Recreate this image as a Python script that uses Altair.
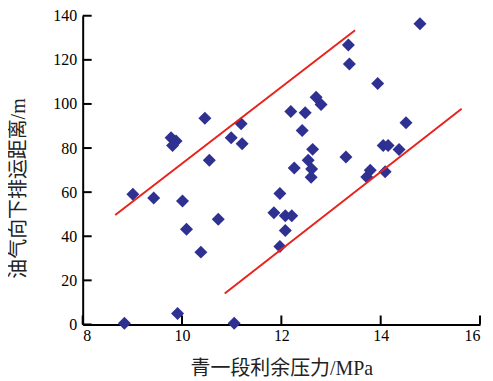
import altair as alt
import pandas as pd

# scatter points: residual pressure (MPa) vs downward migration distance (m)
px = [8.84, 9.01, 9.43, 9.78, 9.88, 9.81, 9.91, 10.01, 10.09, 10.38, 10.46, 10.55,
      10.73, 10.99, 11.05, 11.19, 11.21, 11.85, 11.97, 11.97, 12.08, 12.08, 12.21,
      12.19, 12.26, 12.42, 12.48, 12.54, 12.61, 12.60, 12.63, 12.70, 12.80, 13.30,
      13.35, 13.37, 13.72, 13.79, 13.94, 14.05, 14.15, 14.09, 14.37, 14.51, 14.79]
py = [0.5, 59.0, 57.4, 84.7, 83.2, 81.2, 5.0, 56.0, 43.2, 32.8, 93.5, 74.5,
      47.7, 84.7, 0.5, 91.0, 82.0, 50.7, 59.4, 35.3, 49.3, 42.6, 49.3,
      96.6, 71.0, 88.0, 96.0, 74.5, 70.5, 66.8, 79.4, 103.0, 99.7, 75.9,
      126.7, 118.1, 66.9, 69.9, 109.3, 81.2, 81.2, 69.2, 79.3, 91.5, 136.4]

# boundary lines
upper_x = [8.655, 13.485]
upper_y = [49.6, 133.4]
lower_x = [10.86, 15.63]
lower_y = [14.0, 97.8]

x_ticks = [8, 10, 12, 14, 16]
y_ticks = [0, 20, 40, 60, 80, 100, 120, 140]

x_title = "青一段利余压力/MPa"
y_title = "油气向下排运距离/m"

W, H = 399, 310
FONT = "'Liberation Serif', 'Noto Sans CJK SC'"

pts = pd.DataFrame({"x": px, "y": py})
lines = pd.DataFrame({
    "x": upper_x + lower_x,
    "y": upper_y + lower_y,
    "g": ["upper"] * len(upper_x) + ["lower"] * len(lower_x),
})
xt = pd.DataFrame({"x": x_ticks})
yt = pd.DataFrame({"y": y_ticks})

xscale = alt.Scale(domain=[8, 16], nice=False, zero=False)
yscale = alt.Scale(domain=[0, 140], nice=False)

xaxis = alt.Axis(values=x_ticks, title=x_title, labelPadding=3, ticks=False,
                 titleY=44, titleBaseline="middle")
yaxis = alt.Axis(values=y_ticks, title=y_title, labelPadding=6, ticks=False,
                 titleX=-64, titleY=173, titleAngle=270, titleAlign="center",
                 titleBaseline="middle")

points = alt.Chart(pts).mark_point(
    shape="diamond", filled=True, size=170, color="#2E3192", opacity=1
).encode(
    x=alt.X("x:Q", scale=xscale, axis=xaxis),
    y=alt.Y("y:Q", scale=yscale, axis=yaxis),
)

# inward-pointing tick marks
xtick_marks = alt.Chart(xt).mark_tick(
    color="black", thickness=2, size=9, orient="vertical", opacity=1
).encode(
    x=alt.X("x:Q", scale=xscale, axis=None),
    y=alt.value(H - 4.5),
)
ytick_marks = alt.Chart(yt).mark_tick(
    color="black", thickness=2, size=9, orient="horizontal", opacity=1
).encode(
    y=alt.Y("y:Q", scale=yscale, axis=None),
    x=alt.value(4.5),
)

bounds = alt.Chart(lines).mark_line(color="#E8231C", strokeWidth=2).encode(
    x=alt.X("x:Q", scale=xscale, axis=None),
    y=alt.Y("y:Q", scale=yscale, axis=None),
    detail="g:N",
)

chart = alt.layer(points, xtick_marks, ytick_marks, bounds).resolve_axis(
    x="independent", y="independent"
).properties(
    width=W, height=H,
    autosize=alt.AutoSizeParams(type="none"),
    padding={"left": 75, "top": 7, "right": 5, "bottom": 55},
).configure_view(stroke=None).configure_axis(
    grid=False, domainColor="black", domainWidth=2,
    labelFont="Liberation Serif", labelFontSize=16, labelColor="black",
    titleFont=FONT, titleFontSize=20, titleColor="#222222", titleFontWeight="normal",
)

chart.save("out.html", embed_options={"renderer": "svg", "actions": False})
